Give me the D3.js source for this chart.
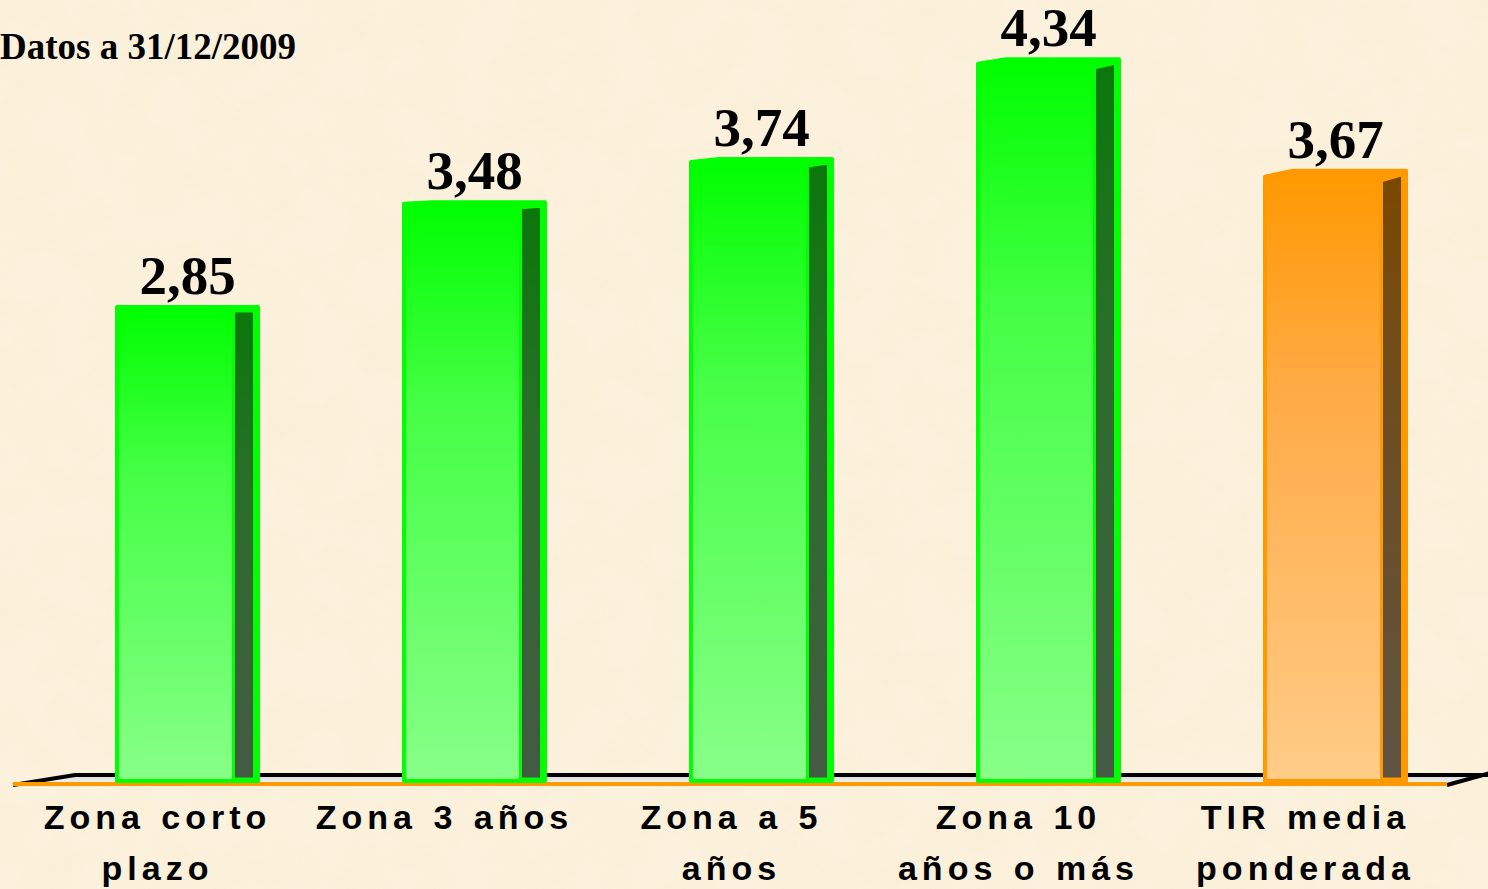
<!DOCTYPE html>
<html>
<head>
<meta charset="utf-8">
<script src="https://cdn.jsdelivr.net/npm/d3@7"></script>
<style>
  html, body { margin: 0; padding: 0; background: #fcf1dc; overflow: hidden; }
  svg { display: block; }
</style>
</head>
<body>
<svg id="chart" width="1488" height="889"></svg>
<script>
// data
var categories = [
  ["Zona corto", "plazo"],
  ["Zona 3 años"],
  ["Zona a 5", "años"],
  ["Zona 10", "años o más"],
  ["TIR media", "ponderada"]
];
var values = [2.85, 3.48, 3.74, 4.34, 3.67];
var valueLabels = ["2,85", "3,48", "3,74", "4,34", "3,67"];
var highlight = [false, false, false, false, true];
var subtitle = "Datos a 31/12/2009";

/* ===================================
 *  SETUP
 * =================================== */
var width = 1488,
  height = 889;

var svg = d3.select("#chart");
var defs = svg.append("defs");

var x = d3
  .scaleBand()
  .domain(d3.range(values.length))
  .range([12, 1447])
  .padding(0);

var y = d3.scaleLinear().domain([0, 4.5]).range([781, 781 - 4.5 * 166.3]);

// parchment background
var paper = defs.append("filter").attr("id", "paper").attr("x", 0).attr("y", 0).attr("width", 1).attr("height", 1);
paper.append("feTurbulence").attr("type", "fractalNoise").attr("baseFrequency", 0.02).attr("numOctaves", 4).attr("seed", 7);
paper
  .append("feColorMatrix")
  .attr("type", "matrix")
  .attr("values", "0 0 0 0 0.92  0 0 0 0 0.83  0 0 0 0 0.64  1.2 0 0 0 -0.5");

svg.append("rect").attr("width", width).attr("height", height).attr("fill", "#fcf1dc");
svg.append("rect").attr("width", width).attr("height", height).attr("filter", "url(#paper)").attr("opacity", 0.8);

/* ===================================
 *  GRADIENTS
 * =================================== */
function addGradient(id, stops) {
  var g = defs.append("linearGradient").attr("id", id).attr("x1", 0).attr("y1", 0).attr("x2", 0).attr("y2", 1);
  stops.forEach(function (s) {
    g.append("stop").attr("offset", s[0]).attr("stop-color", s[1]);
  });
}
addGradient("greenFront", [[0, "#00ff00"], [0.35, "#45ff45"], [1, "#88ff88"]]);
addGradient("greenSide", [[0, "#0a780a"], [0.4, "#2b6e2b"], [1, "#445a44"]]);
addGradient("orangeFront", [[0, "#ff9900"], [0.35, "#ffaa44"], [1, "#ffcc88"]]);
addGradient("orangeSide", [[0, "#7a4800"], [0.4, "#6e4e22"], [1, "#5f5242"]]);
addGradient("floorFill", [[0, "#d0d0d0"], [1, "#ffffff"]]);

/* ===================================
 *  FLOOR
 * =================================== */
var base = y(0);
svg
  .append("polygon")
  .attr("points", [[13, base + 4], [75, base - 7], [1490, base - 7], [1447, base + 4]].join(" "))
  .attr("fill", "url(#floorFill)");
svg
  .append("path")
  .attr("d", "M13," + (base + 4) + " L75," + (base - 6) + " L1490," + (base - 6))
  .attr("fill", "none")
  .attr("stroke", "#000")
  .attr("stroke-width", 4);
svg
  .append("path")
  .attr("d", "M1447," + (base + 4) + " L1490," + (base - 8))
  .attr("fill", "none")
  .attr("stroke", "#000")
  .attr("stroke-width", 4);
svg
  .append("line")
  .attr("x1", 13)
  .attr("x2", 1447)
  .attr("y1", base + 3)
  .attr("y2", base + 3)
  .attr("stroke", "#ff9900")
  .attr("stroke-width", 4);

/* ===================================
 *  BARS
 * =================================== */
var barW = 141,
  sideW = 21,
  offset = 105;

var bars = svg
  .selectAll("g.bar")
  .data(values)
  .join("g")
  .attr("class", "bar");

bars.each(function (v, i) {
  var g = d3.select(this);
  var x0 = x(i) + offset;
  var x1 = x0 + barW;
  var top = y(v);
  var cx = x0 + barW / 2;
  var s = Math.max(0, (cx - 190) / 190); // perspective dip of top-left corner
  var edge = highlight[i] ? "#ff9900" : "#00ff00";
  var front = highlight[i] ? "url(#orangeFront)" : "url(#greenFront)";
  var side = highlight[i] ? "url(#orangeSide)" : "url(#greenSide)";

  g.append("path")
    .attr("d", "M" + x0 + "," + (top + s) + " L" + (x0 + 28) + "," + top + " L" + x1 + "," + top + " L" + x1 + "," + base + " L" + x0 + "," + base + " Z")
    .attr("fill", front)
    .attr("stroke", edge)
    .attr("stroke-width", 4)
    .attr("stroke-linejoin", "round");

  var sx1 = x1 - 3.5;
  var sx0 = sx1 - sideW;
  g.append("path")
    .attr("d", "M" + sx0 + "," + (top + 4 + s) + " L" + sx1 + "," + (top + 4) + " L" + sx1 + "," + (base - 2) + " L" + sx0 + "," + (base - 2) + " Z")
    .attr("fill", side)
    .attr("stroke", edge)
    .attr("stroke-width", 3);

  g.append("text")
    .attr("x", cx)
    .attr("y", top - 13)
    .attr("text-anchor", "middle")
    .attr("font-family", "'Liberation Serif', 'Times New Roman', serif")
    .attr("font-weight", "bold")
    .attr("font-size", 55)
    .attr("fill", "#000")
    .text(valueLabels[i]);
});

/* ===================================
 *  LABELS
 * =================================== */
var labels = svg
  .selectAll("text.cat")
  .data(categories)
  .join("text")
  .attr("class", "cat")
  .attr("text-anchor", "middle")
  .attr("font-family", "'Liberation Sans', Arial, sans-serif")
  .attr("font-weight", "bold")
  .attr("font-size", 34)
  .attr("letter-spacing", 5)
  .attr("word-spacing", 2)
  .attr("fill", "#000");

labels.each(function (lines, i) {
  var t = d3.select(this);
  lines.forEach(function (line, k) {
    t.append("tspan")
      .attr("x", x(i) + x.bandwidth() / 2 + 2)
      .attr("y", 829 + k * 51)
      .text(line);
  });
});

svg
  .append("text")
  .attr("x", 0)
  .attr("y", 59)
  .attr("font-family", "'Liberation Serif', 'Times New Roman', serif")
  .attr("font-weight", "bold")
  .attr("font-size", 37)
  .attr("fill", "#000")
  .text(subtitle);
</script>
</body>
</html>
